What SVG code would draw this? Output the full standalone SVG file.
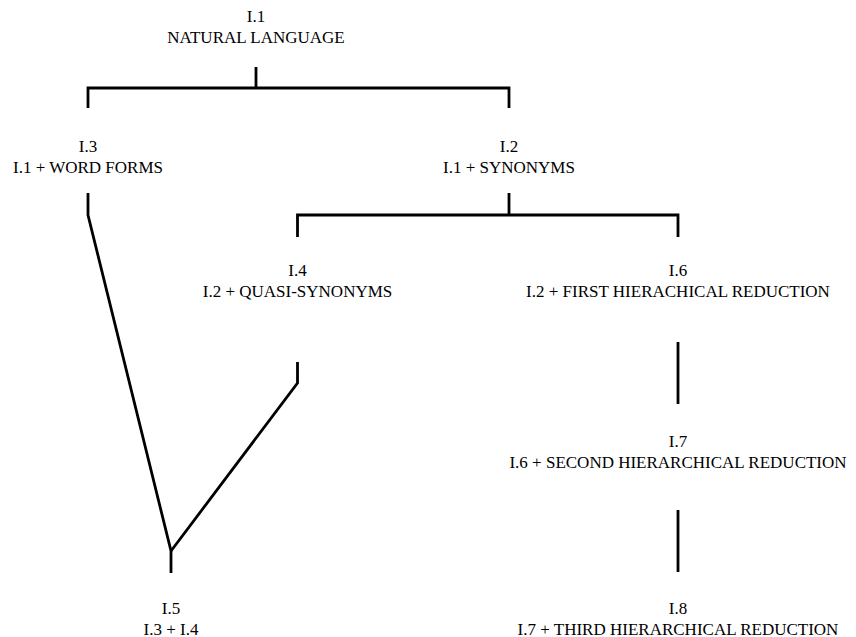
<svg xmlns="http://www.w3.org/2000/svg" width="856" height="637" viewBox="0 0 856 637">
  <style>
    .bg { fill: #ffffff; }
    .lbl { font-family: "Liberation Serif", "Times New Roman", serif; font-size: 17px; fill: #000000; text-anchor: middle; }
    .edge { fill: none; stroke: #000000; stroke-width: 2.8; stroke-linejoin: miter; stroke-linecap: butt; }
  </style>
  <rect class="bg" x="0" y="0" width="856" height="637"/>

  <g id="connectors">
    <!-- I.1 branching to I.3 and I.2 -->
    <path class="edge" d="M256 67 V88"/>
    <path class="edge" d="M88 108 V88 H509 V108"/>
    <!-- I.2 branching to I.4 and I.6 -->
    <path class="edge" d="M509 193 V215"/>
    <path class="edge" d="M297.5 237 V215 H678 V237"/>
    <!-- I.3 and I.4 merging into I.5 -->
    <path class="edge" d="M88 193 V215 L171 551 V573"/>
    <path class="edge" d="M297.5 362 V383 L171 551"/>
    <!-- hierarchical reductions -->
    <path class="edge" d="M678 342 V404"/>
    <path class="edge" d="M678 510 V572"/>
  </g>

  <g id="n1">
    <text class="lbl" x="256" y="22">I.1</text>
    <text class="lbl" x="256" y="42.5">NATURAL LANGUAGE</text>
  </g>
  <g id="n3">
    <text class="lbl" x="88" y="152">I.3</text>
    <text class="lbl" x="88" y="172.5">I.1 + WORD FORMS</text>
  </g>
  <g id="n2">
    <text class="lbl" x="509" y="152">I.2</text>
    <text class="lbl" x="509" y="172.5">I.1 + SYNONYMS</text>
  </g>
  <g id="n4">
    <text class="lbl" x="297.5" y="276">I.4</text>
    <text class="lbl" x="297.5" y="296.5">I.2 + QUASI-SYNONYMS</text>
  </g>
  <g id="n6">
    <text class="lbl" x="678" y="276">I.6</text>
    <text class="lbl" x="678" y="296.5">I.2 + FIRST HIERACHICAL REDUCTION</text>
  </g>
  <g id="n7">
    <text class="lbl" x="678" y="447">I.7</text>
    <text class="lbl" x="678" y="467.5">I.6 + SECOND HIERARCHICAL REDUCTION</text>
  </g>
  <g id="n5">
    <text class="lbl" x="171" y="614">I.5</text>
    <text class="lbl" x="171" y="634.5">I.3 + I.4</text>
  </g>
  <g id="n8">
    <text class="lbl" x="678" y="614">I.8</text>
    <text class="lbl" x="678" y="634.5">I.7 + THIRD HIERARCHICAL REDUCTION</text>
  </g>
</svg>
